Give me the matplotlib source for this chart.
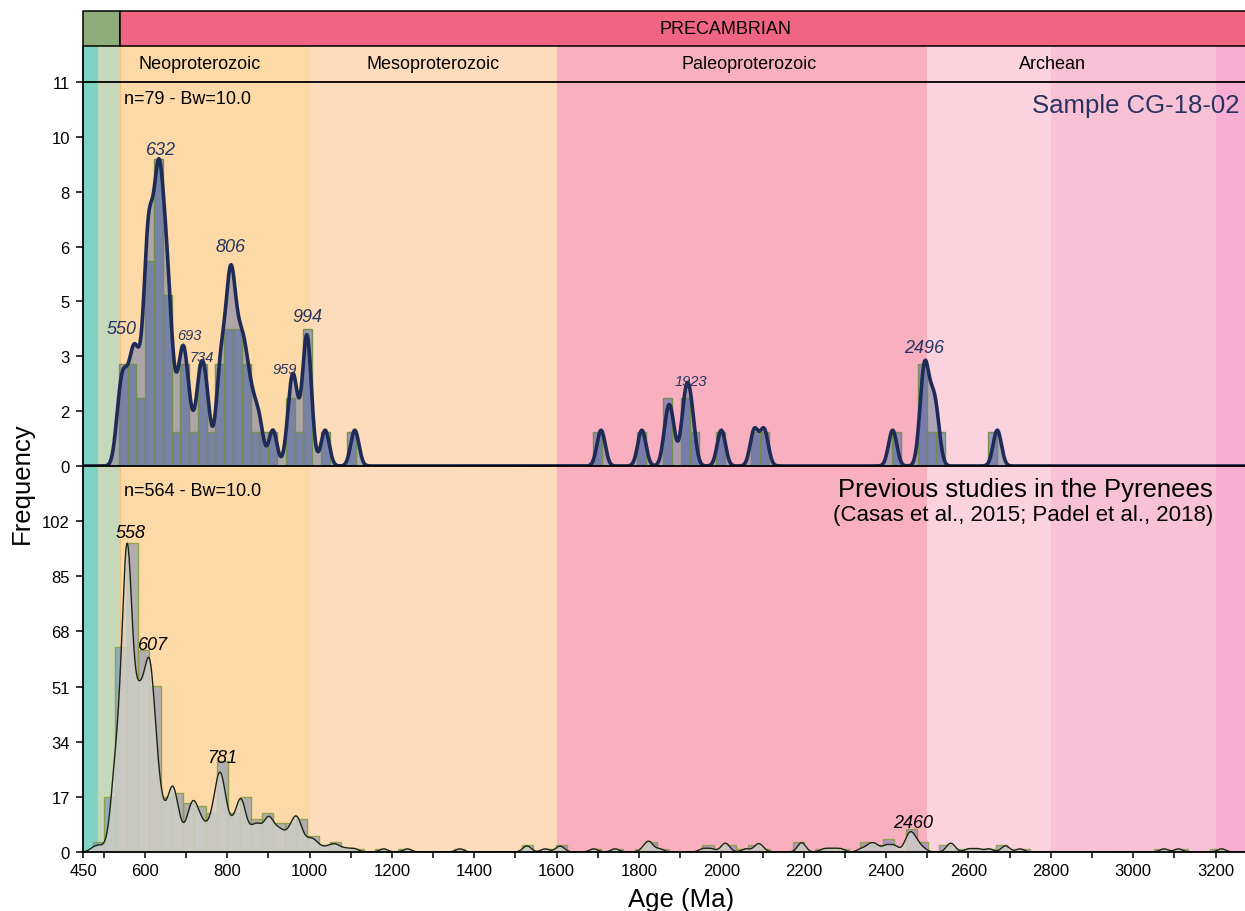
import numpy as np
import matplotlib
matplotlib.use("Agg")
import matplotlib.pyplot as plt
from matplotlib.patches import Rectangle
import matplotlib.transforms as mtransforms

plt.rcParams['font.family'] = ['Liberation Sans', 'DejaVu Sans']

# ---------------- data ----------------
# Sample CG-18-02 : single-grain U-Pb ages (Ma)
sample_ages = [537, 546, 553, 565, 572, 577, 585, 595,
               604, 606, 608, 610, 612, 615,
               623, 626, 629, 631, 633, 635, 638, 641, 643,
               648, 652, 655, 659, 663, 676, 689, 693, 697, 709,
               730, 736, 744, 752, 779, 785, 790,
               801, 804, 807, 810, 815, 818, 826, 833,
               838, 845, 853, 865, 879, 911, 952, 960, 966,
               988, 992, 995, 1000, 1038, 1110,
               1708, 1807, 1868, 1879, 1910, 1918, 1928, 2000, 2080, 2104,
               2416, 2488, 2494, 2498, 2513, 2522, 2670]

# Previous studies in the Pyrenees : ages (Ma) and number of grains at each age
prev_ages = [
    474, 486, 495,
    510, 518, 523, 527,
    531, 537, 542, 547, 551, 555,
    557, 560, 564, 569, 574, 579, 583,
    586, 591, 596, 601, 606, 610,
    613, 617, 621, 626, 631, 636,
    642, 648, 654, 660, 665,
    668, 673, 680, 687,
    700, 708, 714, 719,
    724, 732, 740, 746,
    752, 760, 766, 772,
    777, 781, 787, 795,
    805, 814, 824,
    833, 839, 847, 854,
    862, 870, 878,
    890, 898, 905,
    916, 925, 934,
    945, 953, 962,
    970, 977, 988,
    1000, 1010, 1018,
    1030, 1045,
    1055, 1063, 1072,
    1090, 1110, 1180, 1238, 1365,
    1526, 1530, 1572, 1605, 1612, 1690, 1742,
    1812, 1825, 1850, 1955, 1975,
    2005, 2012, 2060, 2088, 2098,
    2195, 2250, 2270, 2290,
    2340, 2360, 2375, 2400, 2420,
    2450, 2458, 2465, 2475, 2490,
    2555, 2562, 2601, 2623, 2650, 2690, 2725,
    3075, 3110, 3215]
prev_counts = [
    1, 1, 1,
    1, 2, 4, 10,
    5, 8, 10, 12, 13, 15,
    24, 20, 14, 10, 9, 9, 9,
    9, 10, 11, 11, 11, 10,
    13, 11, 9, 7, 6, 5,
    3, 3, 3, 4, 4,
    6, 5, 4, 3,
    3, 4, 5, 3,
    5, 4, 3, 2,
    2, 3, 4, 3,
    6, 7, 8, 7,
    3, 4, 5,
    8, 5, 2, 2,
    3, 3, 4,
    3, 4, 5,
    3, 3, 3,
    2, 3, 4,
    5, 3, 2,
    2, 2, 1,
    1, 1,
    1, 1, 1,
    1, 1, 1, 1, 1,
    1, 1, 1, 1, 1, 1, 1,
    1, 3, 1, 1, 1,
    1, 2, 1, 2, 1,
    3, 1, 1, 1,
    1, 2, 2, 2, 2,
    2, 3, 2, 2, 1,
    2, 1, 1, 1, 1, 2, 1,
    1, 1, 1]

bandwidth = 10.0
n_bins = 100

sample_peaks = [550, 632, 693, 734, 806, 959, 994, 1923, 2496]
prev_peaks = [558, 607, 781, 2460]

# geological time scale
eon_spans = [(450, 541), (541, 4000)]
eon_names = ['', 'PRECAMBRIAN']
era_names = ['Neoproterozoic', 'Mesoproterozoic', 'Paleoproterozoic', 'Archean']
bg_bounds = [450, 485.4, 541, 1000, 1600, 2500, 2800, 3200, 3600]

# ---------------- styles / layout ----------------
eon_colors = ['#8fad7b', '#f06682']
bg_colors = ['#7fd3c4', '#c6d7ba', '#fdd9a8', '#fddcbb', '#f8b0c0',
             '#fad3de', '#f8c1d6', '#f6afd2']
eon_label_x = [None, 2009]
era_label_x = [734, 1300, 2067, 2805]
navy = '#28345f'
top_label_size = [13, 13, 10.5, 10.5, 13, 10.5, 13, 10.5, 13]
top_label_off = [(-1.8, 28.5), (2.2, 7.9), (4.3, 7.7), (1.2, 7.5), (1.0, 16.0),
                 (-5.5, 3.4), (0.0, 13.0), (0.7, 5.0), (-0.7, 9.4)]
bot_label_off = [(2.5, 8.0), (3.8, 10.0), (1.7, 10.8), (1.9, 6.8)]

W, H = 1245, 912
X0, X1 = 450, 3350
PX_LEFT = 83
PX_PER_MA = (1215.5 - 83) / 2750.0


def fx(px):
    return px / W


def fy(py):
    return 1 - py / H


axw = (X1 - X0) * PX_PER_MA / W

fig = plt.figure(figsize=(W / 100, H / 100), dpi=100)

# ---- background (time-scale colours + header) ----
ax_bg = fig.add_axes([fx(PX_LEFT), fy(853), axw, (853 - 12) / H])
ax_bg.set_xlim(X0, X1)
ax_bg.set_ylim(0, 1)
ax_bg.axis('off')
y_era_top = (853 - 47) / (853 - 12)
y_plot_top = (853 - 83) / (853 - 12)
for i, c in enumerate(bg_colors):
    ec = '#f3c07e' if i == 2 else 'none'
    ax_bg.axvspan(bg_bounds[i], bg_bounds[i + 1], ymin=0, ymax=y_era_top,
                  facecolor=c, edgecolor=ec, lw=0.8, zorder=0)
trans = mtransforms.blended_transform_factory(ax_bg.transData, ax_bg.transAxes)
for (a, b), c, name, lx in zip(eon_spans, eon_colors, eon_names, eon_label_x):
    ax_bg.add_patch(Rectangle((a, y_era_top), b - a, 1 - y_era_top, transform=trans,
                              facecolor=c, edgecolor='black', lw=1.1, clip_on=False, zorder=2))
    if name:
        ax_bg.text(lx, (1 + y_era_top) / 2, name, transform=trans, ha='center',
                   va='center', fontsize=13, zorder=3)
for name, lx in zip(era_names, era_label_x):
    ax_bg.text(lx, (y_era_top + y_plot_top) / 2, name, transform=trans,
               ha='center', va='center', fontsize=13, zorder=3)
ax_bg.plot([X0, X0], [y_plot_top, y_era_top], transform=trans, color='black',
           lw=1.3, clip_on=False, zorder=3)

grid = np.arange(X0, X1 + 0.5, 1.0)


def kde(ages, weights):
    a = np.asarray(ages, float)[:, None]
    w = np.asarray(weights, float)[:, None]
    return (w * np.exp(-0.5 * ((grid[None, :] - a) / bandwidth) ** 2)).sum(axis=0)


# ---- top panel: sample ----
ax_top = fig.add_axes([fx(PX_LEFT), fy(467), axw, (467 - 83) / H], facecolor='none')
cnt_t, edges_t, _ = ax_top.hist(sample_ages, bins=n_bins,
                                facecolor=(67 / 255, 97 / 255, 167 / 255, 0.5),
                                edgecolor=(0.44, 0.56, 0.30, 0.95), lw=1.0, zorder=3)
k_t = kde(sample_ages, np.ones(len(sample_ages)))
k_t = k_t * cnt_t.max() / k_t.max()
ax_top.fill_between(grid, 0, k_t, facecolor=(143 / 255, 143 / 255, 168 / 255, 0.7),
                    lw=0, zorder=2)
ax_top.plot(grid, k_t, color='#1f2b57', lw=2.6, zorder=4)
ymax_t = 1.25 * cnt_t.max()
ax_top.set_xlim(X0, X1)
ax_top.set_ylim(0, ymax_t)
yt = np.linspace(0, ymax_t, 8)
ax_top.set_yticks(yt)
ax_top.set_yticklabels([f"{v:.0f}" for v in yt])
ax_top.set_xticks([])
for p, s, (dx, dy) in zip(sample_peaks, top_label_size, top_label_off):
    ax_top.annotate(str(p), xy=(p, np.interp(p, grid, k_t)), xytext=(dx, dy),
                    textcoords='offset points', ha='center', va='center',
                    fontstyle='italic', fontsize=s, color=navy, zorder=6)

# ---- bottom panel: previous studies ----
ax_bot = fig.add_axes([fx(PX_LEFT), fy(853), axw, (853 - 467) / H], facecolor='none')
cnt_b, edges_b, _ = ax_bot.hist(prev_ages, bins=n_bins, weights=prev_counts,
                                facecolor=(72 / 255, 109 / 255, 188 / 255, 0.4),
                                edgecolor=(0.55, 0.63, 0.27, 0.95), lw=1.0, zorder=2)
k_b = kde(prev_ages, prev_counts)
k_b = k_b * cnt_b.max() / k_b.max()
ax_bot.fill_between(grid, 0, k_b, facecolor=(208 / 255, 207 / 255, 200 / 255, 0.82),
                    lw=0, zorder=3)
ax_bot.plot(grid, k_b, color='#1c2414', lw=1.0, zorder=4)
ymax_b = 1.25 * cnt_b.max()
ax_bot.set_xlim(X0, X1)
ax_bot.set_ylim(0, ymax_b)
yb = np.linspace(0, ymax_b, 8)[:-1]
ax_bot.set_yticks(yb)
ax_bot.set_yticklabels([f"{v:.0f}" for v in yb])
xt = [450] + list(range(500, 3201, 100))
ax_bot.set_xticks(xt)
ax_bot.set_xticklabels([str(t) if (t == 450 or t % 200 == 0) else '' for t in xt])
for p, (dx, dy) in zip(prev_peaks, bot_label_off):
    ax_bot.annotate(str(p), xy=(p, np.interp(p, grid, k_b)), xytext=(dx, dy),
                    textcoords='offset points', ha='center', va='center',
                    fontstyle='italic', fontsize=13, color='black', zorder=6)

# ---- spines & ticks ----
for ax in (ax_top, ax_bot):
    for s in ax.spines.values():
        s.set_zorder(10)
        s.set_linewidth(1.3)
    ax.spines['right'].set_visible(False)
    ax.tick_params(axis='y', length=5, width=1.1, pad=4.5, labelsize=12)
ax_bot.spines['top'].set_visible(False)
ax_bot.tick_params(axis='x', length=4, width=1.1, pad=4, labelsize=12)

# ---- texts ----
fig.text(fx(124), fy(100), 'n=79 - Bw=10.0', ha='left', va='center', fontsize=13)
fig.text(fx(124), fy(492), 'n=564 - Bw=10.0', ha='left', va='center', fontsize=13)
fig.text(fx(1240), fy(106), 'Sample CG-18-02', ha='right', va='center',
         fontsize=18.5, color=navy)
fig.text(fx(1213), fy(490), 'Previous studies in the Pyrenees', ha='right',
         va='center', fontsize=18.5)
fig.text(fx(1213), fy(516), '(Casas et al., 2015; Padel et al., 2018)', ha='right',
         va='center', fontsize=16)
fig.text(fx(22), fy(483), 'Frequency', rotation=90, ha='center', va='center',
         fontsize=18.5)
fig.text(fx(681), fy(907), 'Age (Ma)', ha='center', va='baseline', fontsize=18.5)

fig.savefig('out.png', dpi=100)
